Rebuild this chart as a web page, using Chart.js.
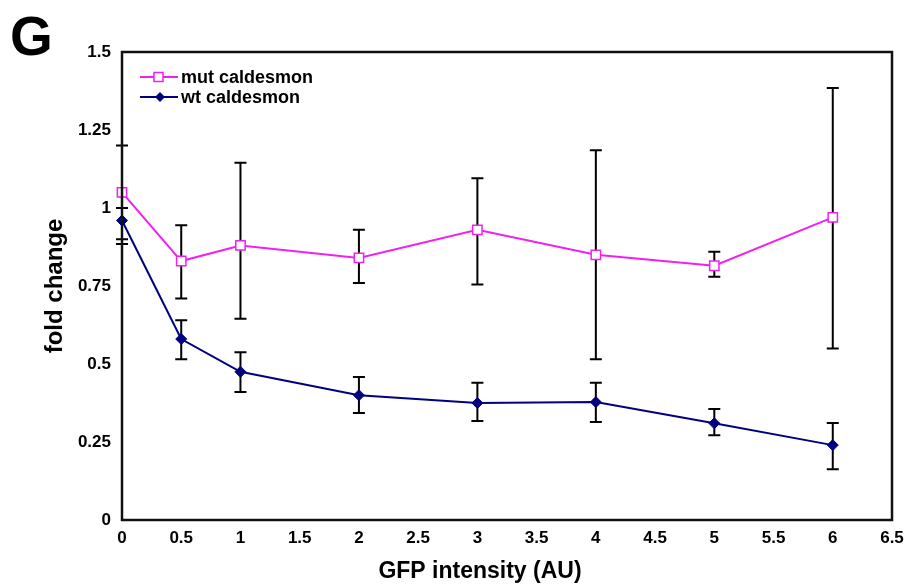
<!DOCTYPE html>
<html>
<head>
<meta charset="utf-8">
<script src="https://cdn.jsdelivr.net/npm/chart.js@4/dist/chart.umd.min.js"></script>
<style>
  html, body { margin: 0; padding: 0; background: #fff; }
  #wrap { width: 904px; height: 586px; position: relative; }
</style>
</head>
<body>
<div id="wrap"><canvas id="chart"></canvas></div>
<script>
// Data
const gfp = [0, 0.5, 1, 2, 3, 4, 5, 6];
const mutMean = [1.05, 0.83, 0.88, 0.84, 0.93, 0.85, 0.815, 0.97];
const mutLow  = [0.90, 0.71, 0.645, 0.76, 0.755, 0.515, 0.78, 0.55];
const mutHigh = [1.20, 0.945, 1.145, 0.93, 1.095, 1.185, 0.86, 1.385];
const wtMean = [0.96, 0.58, 0.475, 0.40, 0.375, 0.378, 0.31, 0.24];
const wtLow  = [0.885, 0.515, 0.41, 0.343, 0.317, 0.314, 0.272, 0.163];
const wtHigh = [1.0, 0.64, 0.538, 0.458, 0.44, 0.44, 0.356, 0.311];

const MUT = '#f020f0';
const WT = '#000080';

const toPts = (ys) => gfp.map((x, i) => ({ x: x, y: ys[i] }));

// error bars, frame, legend, panel letter, x title
const decor = {
    id: 'decor',
    beforeDatasetsDraw(chart) {
        const ctx = chart.ctx;
        const xs = chart.scales.x, ys = chart.scales.y;
        ctx.save();
        ctx.strokeStyle = '#000';
        ctx.lineWidth = 2;
        const bars = [[mutLow, mutHigh], [wtLow, wtHigh]];
        bars.forEach(([lo, hi]) => {
            gfp.forEach((g, i) => {
                const px = xs.getPixelForValue(g);
                const y1 = ys.getPixelForValue(lo[i]);
                const y2 = ys.getPixelForValue(hi[i]);
                ctx.beginPath();
                ctx.moveTo(px, y1); ctx.lineTo(px, y2);
                ctx.moveTo(px - 6, y1); ctx.lineTo(px + 6, y1);
                ctx.moveTo(px - 6, y2); ctx.lineTo(px + 6, y2);
                ctx.stroke();
            });
        });
        ctx.restore();
    },
    afterDraw(chart) {
        const ctx = chart.ctx;
        const a = chart.chartArea;
        ctx.save();
        // frame
        ctx.strokeStyle = '#111';
        ctx.lineWidth = 2.5;
        ctx.strokeRect(a.left, a.top, a.right - a.left, a.bottom - a.top);

        // panel letter
        ctx.fillStyle = '#000';
        ctx.font = 'bold 55px "Liberation Sans", Arial, sans-serif';
        ctx.textBaseline = 'alphabetic';
        ctx.textAlign = 'left';
        ctx.fillText('G', 10, 55);

        // x axis title
        ctx.font = 'bold 23px "Liberation Sans", Arial, sans-serif';
        ctx.textAlign = 'center';
        ctx.textBaseline = 'middle';
        ctx.fillText('GFP intensity (AU)', 480, 572);

        // legend
        const items = [
            { label: 'mut caldesmon', color: MUT, style: 'rect', y: 77 },
            { label: 'wt caldesmon', color: WT, style: 'rectRot', y: 97 }
        ];
        ctx.font = 'bold 18px "Liberation Sans", Arial, sans-serif';
        ctx.textAlign = 'left';
        items.forEach(it => {
            ctx.strokeStyle = it.color;
            ctx.lineWidth = 2;
            ctx.beginPath();
            ctx.moveTo(140, it.y); ctx.lineTo(178, it.y);
            ctx.stroke();
            if (it.style === 'rect') {
                ctx.fillStyle = '#fff';
                ctx.fillRect(154, it.y - 4.5, 9, 9);
                ctx.lineWidth = 1.5;
                ctx.strokeRect(154, it.y - 4.5, 9, 9);
            } else {
                ctx.fillStyle = it.color;
                ctx.beginPath();
                ctx.moveTo(160, it.y - 5); ctx.lineTo(165, it.y);
                ctx.lineTo(160, it.y + 5); ctx.lineTo(155, it.y);
                ctx.closePath();
                ctx.fill();
            }
            ctx.fillStyle = '#000';
            ctx.fillText(it.label, 181, it.y + 1);
        });
        ctx.restore();
    }
};

const tickFont = { family: '"Liberation Sans", Arial, sans-serif', size: 17, weight: 'bold' };
const plainNum = (v) => String(Math.round(v * 100) / 100);

new Chart(document.getElementById('chart'), {
    type: 'line',
    data: {
        datasets: [{
            label: 'mut caldesmon',
            data: toPts(mutMean),
            borderColor: MUT,
            borderWidth: 2,
            pointStyle: 'rect',
            pointRadius: 6.6,
            pointBorderWidth: 1.5,
            pointBackgroundColor: '#fff',
            pointBorderColor: MUT,
            tension: 0,
            clip: false
        }, {
            label: 'wt caldesmon',
            data: toPts(wtMean),
            borderColor: WT,
            borderWidth: 2,
            pointStyle: 'rectRot',
            pointRadius: 5.5,
            pointBorderWidth: 1,
            pointBackgroundColor: WT,
            pointBorderColor: WT,
            tension: 0,
            clip: false
        }]
    },
    options: {
        responsive: true,
        maintainAspectRatio: false,
        animation: false,
        layout: { padding: { top: 52, right: 12, bottom: 0, left: 0 } },
        plugins: { legend: { display: false }, tooltip: { enabled: false } },
        scales: {
            x: {
                type: 'linear',
                min: 0, max: 6.5,
                grid: { display: false, drawTicks: false },
                border: { display: false },
                ticks: { stepSize: 0.5, color: '#000', font: tickFont, padding: 8, maxRotation: 0, autoSkip: false, callback: plainNum },
                afterFit: (s) => { s.height = 66; s.paddingRight = 0; s.paddingLeft = 0; }
            },
            y: {
                min: 0, max: 1.5,
                grid: { display: false, drawTicks: false },
                border: { display: false },
                ticks: { stepSize: 0.25, color: '#000', font: tickFont, padding: 11, callback: plainNum },
                title: {
                    display: true,
                    text: 'fold change',
                    color: '#000',
                    font: { family: '"Liberation Sans", Arial, sans-serif', size: 24, weight: 'bold' },
                    padding: { top: 41, bottom: 0 }
                },
                afterFit: (s) => { s.width = 122; }
            }
        }
    },
    plugins: [decor]
});
</script>
</body>
</html>
